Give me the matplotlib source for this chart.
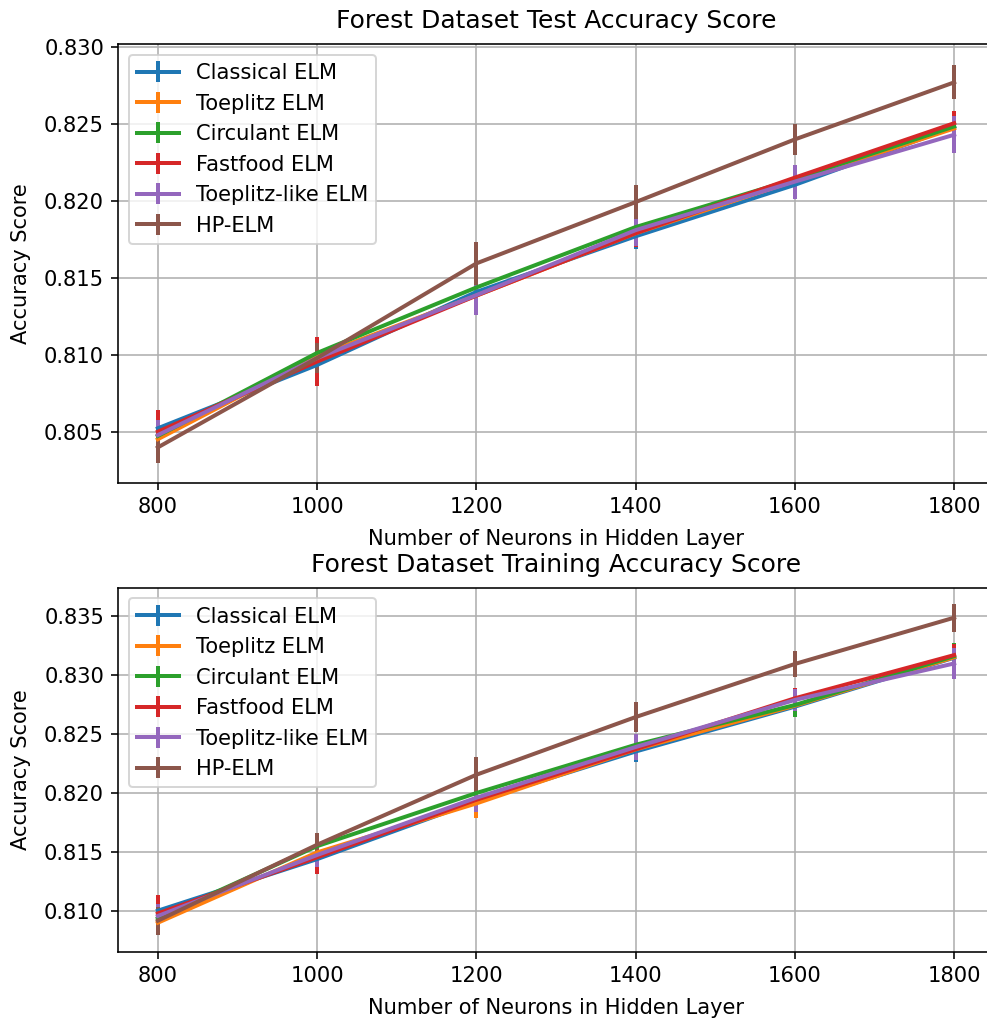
import numpy as np
import matplotlib
matplotlib.use("Agg")
import matplotlib.pyplot as plt

# hidden layer sizes
neurons = [800, 1000, 1200, 1400, 1600, 1800]
labels = ["Classical ELM", "Toeplitz ELM", "Circulant ELM", "Fastfood ELM",
          "Toeplitz-like ELM", "HP-ELM"]

# test accuracy (mean) per method
test_classical = [0.80524, 0.80935, 0.81409, 0.81770, 0.82104, 0.82480]
test_toeplitz = [0.80453, 0.80993, 0.81385, 0.81790, 0.82130, 0.82470]
test_circulant = [0.80474, 0.81013, 0.81438, 0.81830, 0.82141, 0.82483]
test_fastfood = [0.80502, 0.80957, 0.81385, 0.81790, 0.82151, 0.82504]
test_toeplitz_like = [0.80480, 0.80980, 0.81388, 0.81810, 0.82125, 0.82429]
test_hp = [0.80400, 0.80980, 0.81594, 0.81992, 0.82399, 0.82769]

# test accuracy (std)
test_classical_err = [0.0008, 0.0008, 0.0009, 0.0008, 0.0009, 0.0009]
test_toeplitz_err = [0.0009, 0.0009, 0.0010, 0.0009, 0.0010, 0.0009]
test_circulant_err = [0.0010, 0.0010, 0.0009, 0.0009, 0.0009, 0.0008]
test_fastfood_err = [0.0014, 0.0016, 0.0010, 0.0009, 0.0008, 0.0008]
test_toeplitz_like_err = [0.0010, 0.0010, 0.0013, 0.0010, 0.0011, 0.0012]
test_hp_err = [0.0010, 0.0010, 0.0014, 0.0011, 0.0010, 0.0011]

# training accuracy (mean)
train_classical = [0.81003, 0.81440, 0.81930, 0.82352, 0.82732, 0.83147]
train_toeplitz = [0.80901, 0.81497, 0.81912, 0.82370, 0.82740, 0.83150]
train_circulant = [0.80938, 0.81550, 0.82000, 0.82409, 0.82746, 0.83160]
train_fastfood = [0.80980, 0.81455, 0.81943, 0.82372, 0.82803, 0.83169]
train_toeplitz_like = [0.80958, 0.81475, 0.81960, 0.82390, 0.82789, 0.83098]
train_hp = [0.80918, 0.81562, 0.82155, 0.82644, 0.83094, 0.83486]

# training accuracy (std)
train_classical_err = [0.0009, 0.0009, 0.0009, 0.0009, 0.0009, 0.0010]
train_toeplitz_err = [0.0010, 0.0010, 0.0012, 0.0009, 0.0009, 0.0010]
train_circulant_err = [0.0010, 0.0009, 0.0009, 0.0009, 0.0010, 0.0011]
train_fastfood_err = [0.0016, 0.0014, 0.0010, 0.0009, 0.0009, 0.0009]
train_toeplitz_like_err = [0.0010, 0.0010, 0.0012, 0.0011, 0.0009, 0.0013]
train_hp_err = [0.0012, 0.0010, 0.0015, 0.0013, 0.0011, 0.0012]

test_means = [test_classical, test_toeplitz, test_circulant, test_fastfood,
              test_toeplitz_like, test_hp]
test_errs = [test_classical_err, test_toeplitz_err, test_circulant_err,
             test_fastfood_err, test_toeplitz_like_err, test_hp_err]
train_means = [train_classical, train_toeplitz, train_circulant, train_fastfood,
               train_toeplitz_like, train_hp]
train_errs = [train_classical_err, train_toeplitz_err, train_circulant_err,
              train_fastfood_err, train_toeplitz_like_err, train_hp_err]

plt.rcParams['font.size'] = 10.5

dpi = 144
fig = plt.figure(figsize=(987 / dpi, 1023 / dpi), dpi=dpi)

# axes run slightly past the right edge, like the cropped original
ax1 = fig.add_axes([118 / 987, 1 - 483 / 1023, 876 / 987, 438.7 / 1023])
ax2 = fig.add_axes([118 / 987, 1 - 952 / 1023, 876 / 987, 364.3 / 1023])


def draw(ax, means, errs, title, ylim):
    for m, e, lab in zip(means, errs, labels):
        ax.errorbar(neurons, m, yerr=e, label=lab, linewidth=2, elinewidth=2)
    ax.set_title(title, fontsize=12.5, pad=8)
    ax.set_xlabel("Number of Neurons in Hidden Layer", labelpad=6)
    ax.set_ylabel("Accuracy Score", labelpad=6.5)
    ax.set_xlim(750, 1850)
    ax.set_ylim(*ylim)
    ax.set_xticks(neurons)
    ax.yaxis.set_major_formatter(matplotlib.ticker.FormatStrFormatter('%.3f'))
    ax.grid(True, color='#b0b0b0', linewidth=0.8)
    ax.legend(loc='upper left')


draw(ax1, test_means, test_errs, "Forest Dataset Test Accuracy Score",
     (0.80169, 0.83016))
ax1.set_yticks([0.805, 0.810, 0.815, 0.820, 0.825, 0.830])
draw(ax2, train_means, train_errs, "Forest Dataset Training Accuracy Score",
     (0.80653, 0.8374))
ax2.set_yticks([0.810, 0.815, 0.820, 0.825, 0.830, 0.835])

fig.savefig("out.png", dpi=dpi)
